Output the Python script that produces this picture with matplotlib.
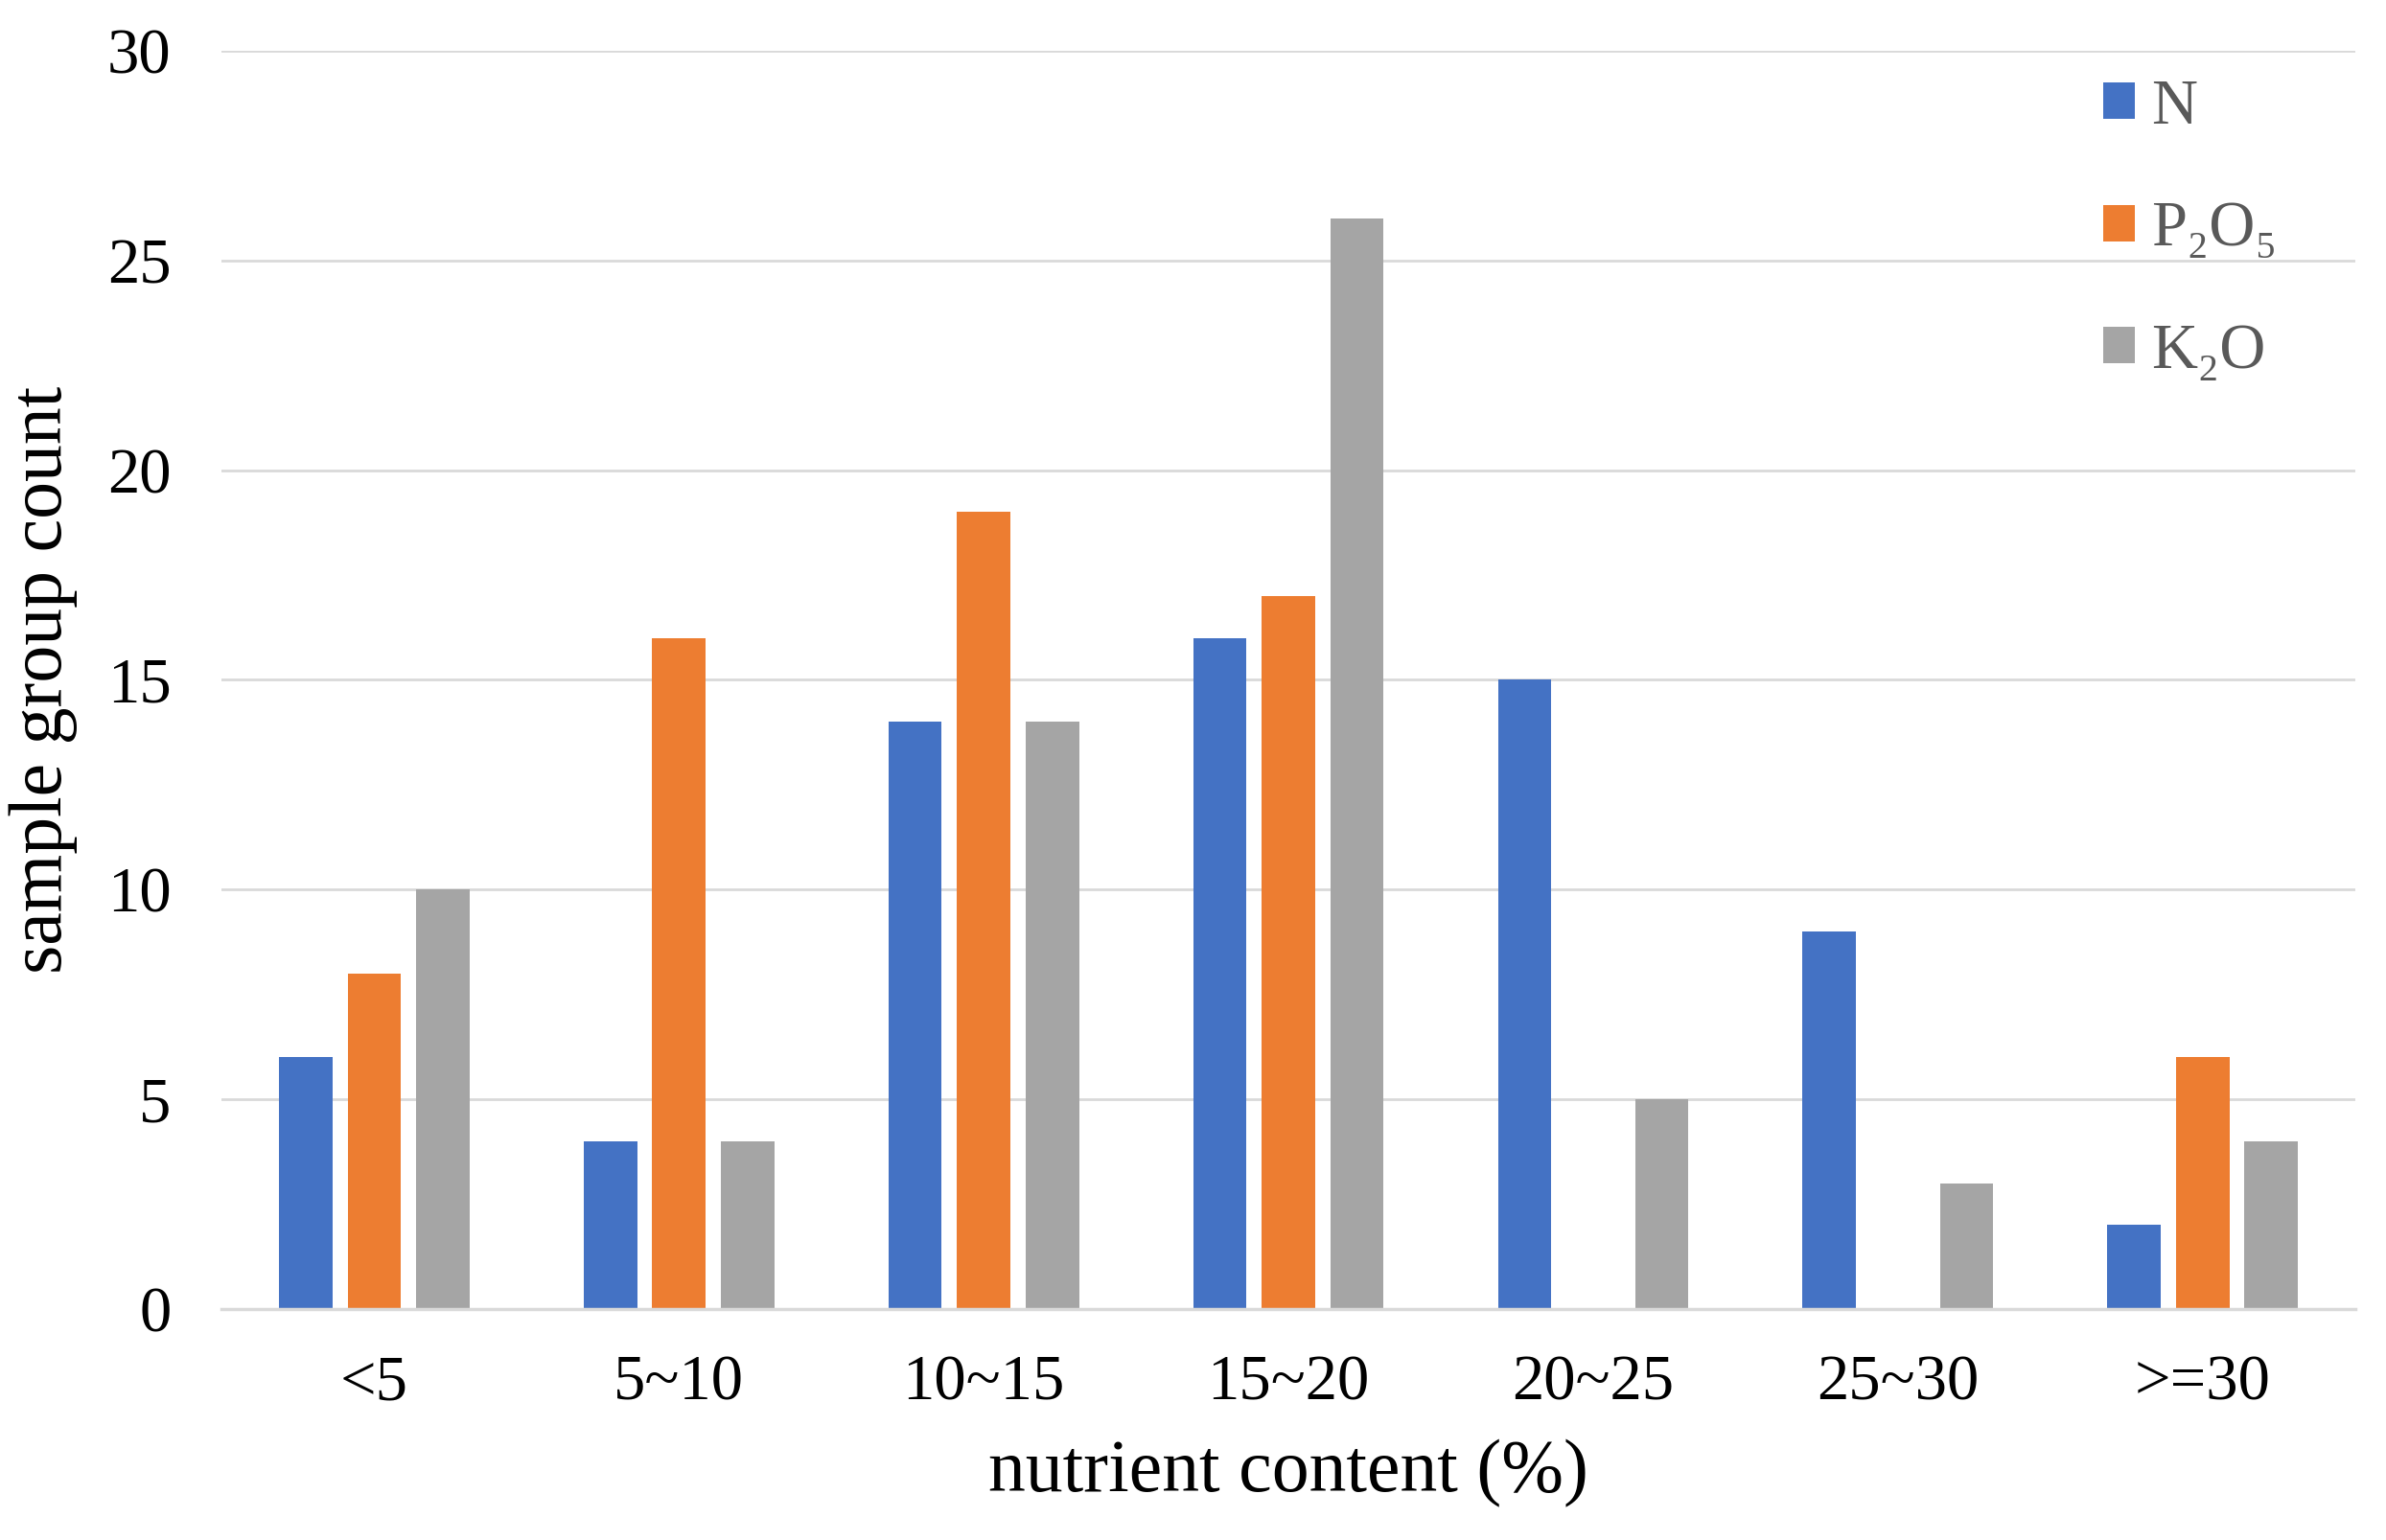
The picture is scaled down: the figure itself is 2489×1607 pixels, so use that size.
import numpy as np
import matplotlib.pyplot as plt
from matplotlib.patches import Patch

plt.rcParams['font.family'] = ['Liberation Serif', 'DejaVu Serif']

# 数据
categories = ['<5', '5~10', '10~15', '15~20', '20~25', '25~30', '>=30']
n_vals = [6, 4, 14, 16, 15, 9, 2]
p2o5_vals = [8, 16, 19, 17, 0, 0, 6]
k2o_vals = [10, 4, 14, 26, 5, 3, 4]
series_names = ['N', 'P₂O₅', 'K₂O']
colors = ['#4472C4', '#ED7D31', '#A5A5A5']

fig = plt.figure(figsize=(24.89, 16.07), dpi=100)
ax = fig.add_axes([0.093, 0.150, 0.894, 0.817])

x = np.arange(len(categories))
width = 0.175
step = 0.225
for i, (vals, c) in enumerate(zip([n_vals, p2o5_vals, k2o_vals], colors)):
    ax.bar(x + (i - 1) * step, vals, width, color=c, zorder=3)

ax.set_xlim(-0.5, len(categories) - 0.5)
ax.set_ylim(0, 30)
ax.set_yticks(range(0, 31, 5))
ax.set_xticks(x)
ax.set_xticklabels(categories)

ax.grid(axis='y', color='#D9D9D9', linewidth=2, zorder=0)
for s in ['top', 'right', 'left']:
    ax.spines[s].set_visible(False)
ax.spines['bottom'].set_color('#D9D9D9')
ax.spines['bottom'].set_linewidth(2.5)
ax.spines['bottom'].set_zorder(4)
ax.tick_params(axis='both', length=0, labelsize=48, colors='black')
ax.tick_params(axis='y', pad=38)
ax.tick_params(axis='x', pad=34)

ax.set_xlabel('nutrient content (%)', fontsize=56, labelpad=20)
ax.set_ylabel('sample group count', fontsize=56, labelpad=22)

handles = [Patch(facecolor=c) for c in colors]
leg = fig.legend(handles, series_names, loc='upper left',
                 bbox_to_anchor=(0.868, 0.97), bbox_transform=fig.transFigure,
                 frameon=False, fontsize=48, handlelength=0.5, handleheight=0.5,
                 handletextpad=0.25, labelspacing=1.0, borderpad=0)
for t in leg.get_texts():
    t.set_color('#595959')

fig.savefig('out.png', dpi=100)
